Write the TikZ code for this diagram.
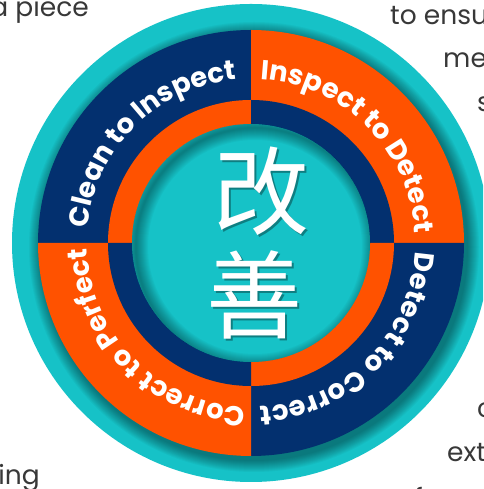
\documentclass[tikz,border=0pt]{standalone}
\usepackage{fontspec}
\setmainfont{Poppins}
\newfontfamily\cjk{Noto Sans CJK SC}
\usetikzlibrary{decorations.text,calc}
\definecolor{tealA}{HTML}{16C2C7}
\definecolor{navyA}{HTML}{03306F}
\definecolor{orngA}{HTML}{FF5200}
\definecolor{txtgray}{HTML}{383838}
\tikzset{
  bodytext/.style={text=txtgray, font=\fontsize{26.5}{26.5}\selectfont, inner sep=0pt},
  ringlabel/.style={decorate, decoration={text along path, text align=center, text color=white,
     text={|\bfseries\fontsize{27.5}{27.5}\selectfont|#1}}},
  kanji/.style={text=white, font=\cjk\fontsize{96}{96}\selectfont, inner sep=0pt},
  kanjishadow/.style={text=black, opacity=0.35, font=\cjk\fontsize{96}{96}\selectfont, inner sep=0pt}
}
\begin{document}
\begin{tikzpicture}[x=1pt,y=1pt]
\useasboundingbox (0,0) rectangle (483,489);
\clip (0,0) rectangle (483,489);
\fill[white] (0,0) rectangle (483,489);
\coordinate (c) at (251,246);

% background body text fragments
\node[bodytext, anchor=base east] (t1) at (89,472) {a piece};
\node[bodytext, anchor=base west] (t2) at (390,464) {to ensure};
\node[bodytext, anchor=base west] (t3) at (443,421) {me};
\node[bodytext, anchor=base west] (t4) at (477,377) {s};
\node[bodytext, anchor=base west] (t5) at (477,71) {c};
\node[bodytext, anchor=base west] (t6) at (447,27) {ext};
\node[bodytext, anchor=base west] (t7) at (414,-18) {f};
\node[bodytext, anchor=base east] (t8) at (40,5) {ing};

% outer teal disc
\fill[tealA] (c) circle (239);
% shadow of coloured ring on teal
\foreach \i in {1,...,12}{
  \fill[black, opacity=0.035] ($(c)+(3,-4)$) circle ({213+13-\i});
}
% outer ring quadrants
\fill[navyA] (c) -- ++(90:213) arc (90:180:213) -- cycle;
\fill[orngA] (c) -- ++(0:213) arc (0:90:213) -- cycle;
\fill[navyA] (c) -- ++(-90:213) arc (-90:0:213) -- cycle;
\fill[orngA] (c) -- ++(180:213) arc (180:270:213) -- cycle;
% inner ring quadrants
\fill[orngA] (c) -- ++(90:143) arc (90:180:143) -- cycle;
\fill[navyA] (c) -- ++(0:143) arc (0:90:143) -- cycle;
\fill[orngA] (c) -- ++(-90:143) arc (-90:0:143) -- cycle;
\fill[navyA] (c) -- ++(180:143) arc (180:270:143) -- cycle;
% central disc with inset shadow
\fill[tealA] (c) circle (119);
\begin{scope}
  \clip (c) circle (119);
  \foreach \w in {2,4,...,24}{
    \draw[black, opacity=0.03, line width=\w pt] ($(c)+(4,-4)$) circle (119);
  }
\end{scope}

% ring labels (clockwise, baseline on inner side)
\path[ringlabel={Clean to Inspect}] ($(c)+(180:164)$) arc (180:90:164);
\path[ringlabel={Inspect to Detect}] ($(c)+(90:164)$) arc (90:0:164);
\path[ringlabel={Detect to Correct}] ($(c)+(0:164)$) arc (0:-90:164);
\path[ringlabel={Correct to Perfect}] ($(c)+(-90:164)$) arc (-90:-180:164);

% kanji
\node[kanjishadow] (k1s) at (263,296) {改};
\node[kanjishadow] (k2s) at (256,192) {善};
\node[kanji] (k1) at (261,298) {改};
\node[kanji] (k2) at (254,194) {善};
\end{tikzpicture}
\end{document}
